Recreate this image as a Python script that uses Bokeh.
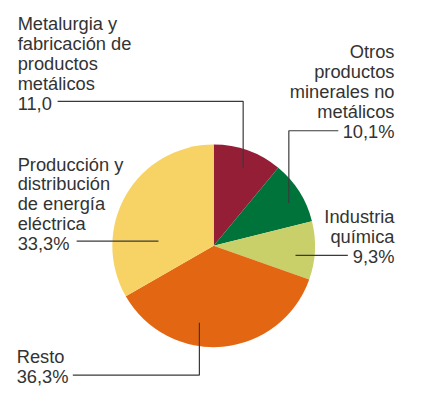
import math
from bokeh.plotting import figure
from bokeh.models import Range1d, ColumnDataSource
from bokeh.core.properties import value
from bokeh.embed import file_html
from bokeh.resources import INLINE

# ---- data ----
categories = ["Metalurgia y fabricación de productos metálicos",
              "Otros productos minerales no metálicos",
              "Industria química",
              "Resto",
              "Producción y distribución de energía eléctrica"]
shares = [11.0, 10.1, 9.3, 36.3, 33.3]
value_labels = ["11,0", "10,1%", "9,3%", "36,3%", "33,3%"]
colors = ["#951E37", "#00733A", "#C9D06A", "#E36712", "#F7D366"]

# ---- layout (reference pixel coords, y downward) ----
W, H = 413, 386
YTOP = 402
def Y(y):
    return YTOP - y

p = figure(width=W, height=H, output_backend="svg", toolbar_location=None,
           x_range=Range1d(0, 434), y_range=Range1d(-4, YTOP),
           min_border=0, outline_line_color=None)
p.axis.visible = False
p.grid.visible = False
p.background_fill_color = "white"
p.border_fill_color = "white"

cx, cy, r = 224, 258, 106.5
total = sum(shares)
starts, ends = [], []
acc = 0.0
for s in shares:
    a0 = math.pi / 2 - acc / total * 2 * math.pi
    acc += s
    a1 = math.pi / 2 - acc / total * 2 * math.pi
    starts.append(a0)
    ends.append(a1)

src = ColumnDataSource(dict(start=starts, end=ends, color=colors, cat=categories))
p.wedge(x=cx, y=Y(cy), radius=r, start_angle="start", end_angle="end",
        direction="clock", fill_color="color", line_color=None, source=src)

# leader lines
lc = "#3a3a3a"
def seg(xs, ys):
    p.line(xs, [Y(v) for v in ys], line_color=lc, line_width=1.2)

seg([60, 255, 255], [106, 106, 176])          # Metalurgia
seg([355, 303, 303], [137, 137, 213])         # Otros
seg([310, 365], [268, 268])                   # Industria
seg([80, 166], [253, 253])                    # Producción
seg([76, 209, 209], [394, 394, 339])          # Resto

font = value("Liberation Sans")
tc = "#333333"
fs = "18.3px"
DY = 4  # compensate renderer's baseline offset

def block(lines, x, base, align, step=21):
    for i, t in enumerate(lines):
        p.text(x=[x], y=[Y(base - DY + i * step)], text=[t], text_font=font,
               text_font_size=fs, text_color=tc, text_align=align,
               text_baseline="alphabetic")

block(["Metalurgia y", "fabricación de", "productos", "metálicos", value_labels[0]],
      18, 28, "left")
block(["Otros", "productos", "minerales no", "metálicos", value_labels[1]],
      414, 58, "right")
block(["Industria", "química", value_labels[2]], 414, 231, "right")
block(["Producción y", "distribución", "de energía", "eléctrica", value_labels[4]],
      18, 176, "left")
block(["Resto", value_labels[3]], 17, 378, "left", step=22)

open("out.html", "w").write(file_html(p, INLINE))
